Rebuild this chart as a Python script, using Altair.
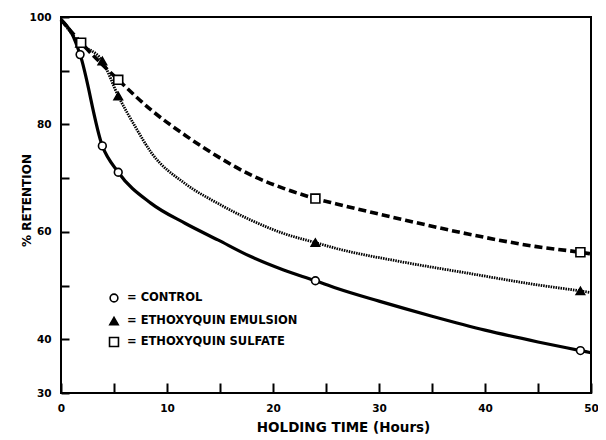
import altair as alt
import pandas as pd

# ---- data ----
# fitted curves (hours, % retention)
CONTROL_CURVE_X = [0, 1.0, 1.8, 3.9, 5.4, 8.5, 11.7, 14.8, 17.9, 21.0, 24.0, 26.0, 30.0, 35.0, 40.0, 45.0, 49.0, 50.0]
CONTROL_CURVE_Y = [99.5, 97.0, 93.0, 76.0, 71.1, 65.3, 61.6, 58.5, 55.4, 52.9, 50.9, 49.5, 47.1, 44.3, 41.7, 39.5, 37.9, 37.5]

EMULSION_CURVE_X = [0, 1.8, 3.9, 5.4, 7.0, 8.5, 11.7, 14.8, 17.9, 21.0, 24.0, 26.0, 32.2, 38.4, 44.7, 49.0, 50.0]
EMULSION_CURVE_Y = [99.5, 95.1, 91.8, 85.3, 79.6, 74.8, 69.0, 65.3, 62.2, 59.7, 58.0, 56.9, 54.4, 52.3, 50.2, 49.0, 48.7]

SULFATE_CURVE_X = [0, 1.9, 5.4, 8.5, 11.7, 14.8, 17.9, 21.0, 24.0, 26.0, 32.2, 38.4, 44.7, 49.0, 50.0]
SULFATE_CURVE_Y = [99.5, 95.2, 88.3, 82.7, 78.0, 74.0, 70.6, 68.1, 66.2, 65.2, 62.3, 59.6, 57.3, 56.2, 55.9]

# measured points
CONTROL_X = [1.8, 3.9, 5.4, 24.0, 49.0]
CONTROL_Y = [93.0, 76.0, 71.1, 50.9, 37.9]
EMULSION_X = [1.8, 3.9, 5.4, 24.0, 49.0]
EMULSION_Y = [95.1, 91.8, 85.3, 58.0, 49.0]
SULFATE_X = [1.9, 5.4, 24.0, 49.0]
SULFATE_Y = [95.2, 88.3, 66.2, 56.2]

LEGEND_LABELS = ["=  CONTROL", "=  ETHOXYQUIN EMULSION", "=  ETHOXYQUIN SULFATE"]

X_TICKS = [0, 5, 10, 15, 20, 25, 30, 35, 40, 45, 50]
Y_TICKS = [30, 40, 50, 60, 70, 80, 90, 100]
Y_LABELED = [30, 40, 60, 80, 100]

FONT = "DejaVu Sans"

xs = alt.Scale(domain=[0, 50], nice=False, zero=False)
ys = alt.Scale(domain=[30, 100], nice=False, zero=False)


def df(x, y):
    return pd.DataFrame({"x": x, "y": y})


labeled = ", ".join(str(v) for v in Y_LABELED)

x_axis = alt.Axis(
    values=X_TICKS, offset=-10, tickSize=10, tickWidth=2, tickColor="black",
    domain=False, grid=False, labelPadding=10, labelOverlap=False, labelFlush=False,
    labelExpr="datum.value % 10 === 0 ? datum.label : ''",
    labelFont=FONT, labelFontSize=10.5, labelFontWeight="bold", labelColor="black",
    title="HOLDING TIME (Hours)", titleFont=FONT, titleFontSize=13.5, titleFontWeight="bold",
    titleColor="black", titleX=282, titleY=44, titleBaseline="middle", titleAlign="center",
)
y_axis = alt.Axis(
    values=Y_TICKS, offset=-8, tickSize=8, tickWidth=2, tickColor="black",
    domain=False, grid=False, labelPadding=10, labelOverlap=False, labelFlush=False,
    labelExpr="indexof([" + labeled + "], datum.value) >= 0 ? datum.label : ''",
    labelFont=FONT, labelFontSize=10.5, labelFontWeight="bold", labelColor="black",
    title="% RETENTION", titleFont=FONT, titleFontSize=12, titleFontWeight="bold",
    titleColor="black", titleX=-43, titleY=183, titleAngle=270,
    titleBaseline="middle", titleAlign="center",
)


def enc():
    return dict(
        x=alt.X("x:Q", scale=xs, axis=x_axis),
        y=alt.Y("y:Q", scale=ys, axis=y_axis),
    )


def curve(x, y, dash, width):
    mk = dict(color="black", strokeWidth=width, interpolate="monotone", strokeCap="butt")
    if dash:
        mk["strokeDash"] = dash
    return alt.Chart(df(x, y)).mark_line(**mk).encode(**enc())


def pts(x, y, shape, size, fill):
    return alt.Chart(df(x, y)).mark_point(
        shape=shape, size=size, filled=True, fill=fill, stroke="black",
        strokeWidth=1.6, opacity=1,
    ).encode(**enc())


layers = [
    curve(CONTROL_CURVE_X, CONTROL_CURVE_Y, None, 3.2),
    curve(EMULSION_CURVE_X, EMULSION_CURVE_Y, [1.5, 1.0], 2.8),
    curve(SULFATE_CURVE_X, SULFATE_CURVE_Y, [8, 4], 3.6),
    pts(CONTROL_X, CONTROL_Y, "circle", 60, "white"),
    pts(EMULSION_X, EMULSION_Y, "triangle-up", 70, "black"),
    pts(SULFATE_X, SULFATE_Y, "square", 80, "white"),
]

legend_shapes = [("circle", 60, "white"), ("triangle-up", 70, "black"), ("square", 80, "white")]
legend_rows = [281, 304, 325]
for label, (shape, size, fill), ry in zip(LEGEND_LABELS, legend_shapes, legend_rows):
    one = pd.DataFrame({"label": [label]})
    layers.append(
        alt.Chart(one).mark_point(
            shape=shape, size=size, filled=True, fill=fill, stroke="black",
            strokeWidth=1.6, opacity=1,
        ).encode(x=alt.value(53), y=alt.value(ry))
    )
    layers.append(
        alt.Chart(one).mark_text(
            align="left", baseline="middle", font=FONT, fontSize=11.5,
            fontWeight="bold", color="black",
        ).encode(x=alt.value(66), y=alt.value(ry), text="label:N")
    )

chart = alt.layer(*layers).properties(
    width=530, height=376,
    background="white",
    autosize=alt.AutoSizeParams(type="none"),
    padding={"left": 53, "top": 9, "right": 7, "bottom": 47},
).configure_view(
    stroke="black", strokeWidth=2,
)

chart.save("out.html", embed_options={"renderer": "svg", "actions": False})
